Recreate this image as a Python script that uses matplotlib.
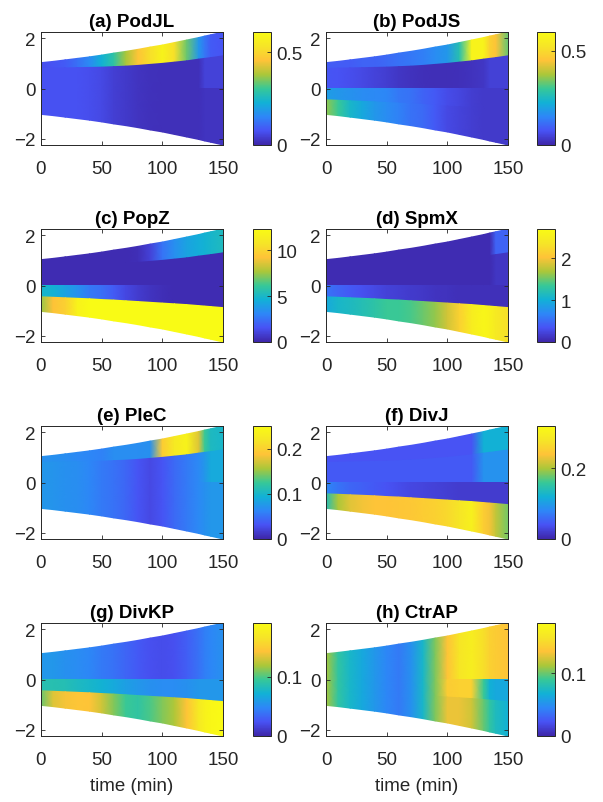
import numpy as np
import matplotlib
matplotlib.use("Agg")
import matplotlib.pyplot as plt
from matplotlib.colors import LinearSegmentedColormap
from matplotlib.ticker import FuncFormatter

plt.rcParams["font.family"] = ["Liberation Sans", "DejaVu Sans"]

# --- geometry of the growing cell ---
TIME = [0, 10, 20, 30, 40, 50, 60, 70, 80, 90, 100, 110, 120, 130, 135, 140, 150]
HALF_LENGTH = [1.03, 1.08, 1.14, 1.2, 1.26, 1.33, 1.41, 1.48, 1.56, 1.65, 1.73,
               1.83, 1.93, 2.03, 2.09, 2.14, 2.25]
BOUND_TOP = [0.8, 0.81, 0.82, 0.83, 0.84, 0.85, 0.87, 0.89, 0.92, 0.96, 1.0,
             1.05, 1.1, 1.17, 1.2, 1.23, 1.3]
BOUND_BOT = [-0.45, -0.47, -0.49, -0.51, -0.53, -0.56, -0.58, -0.61, -0.64, -0.67,
             -0.7, -0.73, -0.76, -0.8, -0.82, -0.84, -0.88]

TITLES = ["(a) PodJL", "(b) PodJS", "(c) PopZ", "(d) SpmX",
          "(e) PleC", "(f) DivJ", "(g) DivKP", "(h) CtrAP"]
CLIM_MAX = [0.61, 0.6, 12.3, 2.7, 0.25, 0.32, 0.19, 0.18]
CBAR_TICKS = [[0, 0.5], [0, 0.5], [0, 5, 10], [0, 1, 2],
              [0, 0.1, 0.2], [0, 0.2], [0, 0.1], [0, 0.1]]

# concentrations per compartment (1 = top pole ... 4 = bottom pole)
PODJL_1 = [0.07, 0.08, 0.09, 0.12, 0.16, 0.23, 0.29, 0.38, 0.46, 0.52, 0.58, 0.52, 0.34, 0.18, 0.13, 0.09, 0.08]
PODJL_2 = [0.075, 0.075, 0.075, 0.075, 0.07, 0.06, 0.045, 0.035, 0.025, 0.02, 0.018, 0.018, 0.018, 0.018, 0.05, 0.05, 0.05]
PODJL_3 = [0.075, 0.075, 0.075, 0.075, 0.07, 0.06, 0.045, 0.035, 0.025, 0.02, 0.018, 0.018, 0.018, 0.018, 0.025, 0.025, 0.025]
PODJL_4 = [0.075, 0.075, 0.075, 0.075, 0.07, 0.06, 0.045, 0.035, 0.025, 0.02, 0.018, 0.018, 0.018, 0.018, 0.025, 0.025, 0.025]

PODJS_1 = [0.09, 0.09, 0.09, 0.1, 0.1, 0.11, 0.12, 0.13, 0.14, 0.16, 0.18, 0.27, 0.57, 0.57, 0.48, 0.45, 0.33]
PODJS_2 = [0.08, 0.075, 0.07, 0.06, 0.05, 0.04, 0.03, 0.022, 0.018, 0.015, 0.015, 0.018, 0.022, 0.03, 0.045, 0.045, 0.045]
PODJS_3 = [0.19, 0.18, 0.17, 0.16, 0.155, 0.15, 0.13, 0.12, 0.1, 0.085, 0.065, 0.055, 0.04, 0.035, 0.035, 0.035, 0.035]
PODJS_4 = [0.36, 0.3, 0.24, 0.21, 0.18, 0.16, 0.145, 0.12, 0.11, 0.085, 0.06, 0.05, 0.04, 0.035, 0.035, 0.035, 0.035]

POPZ_1 = [0.2, 0.2, 0.2, 0.2, 0.2, 0.2, 0.2, 0.2, 0.3, 1.0, 2.5, 3.4, 4.1, 4.5, 4.7, 4.9, 5.2]
POPZ_2 = [0.2, 0.2, 0.2, 0.2, 0.2, 0.2, 0.2, 0.2, 0.2, 0.2, 0.2, 0.2, 0.2, 0.2, 0.2, 0.2, 0.2]
POPZ_3 = [4.9, 4.7, 4.1, 3.5, 2.7, 2.4, 1.8, 1.2, 0.8, 0.5, 0.3, 0.2, 0.2, 0.2, 0.2, 0.2, 0.2]
POPZ_4 = [7.4, 9.2, 9.8, 11.7, 12.5, 13.0, 13.0, 13.0, 13.0, 13.0, 13.0, 13.0, 13.0, 13.0, 13.0, 13.0, 13.0]

SPMX_1 = [0.05, 0.05, 0.05, 0.05, 0.05, 0.05, 0.05, 0.05, 0.05, 0.05, 0.05, 0.05, 0.05, 0.05, 0.05, 0.45, 0.45]
SPMX_2 = [0.05, 0.05, 0.05, 0.05, 0.05, 0.05, 0.05, 0.05, 0.05, 0.05, 0.05, 0.05, 0.05, 0.05, 0.05, 0.12, 0.12]
SPMX_3 = [0.55, 0.46, 0.38, 0.32, 0.27, 0.22, 0.19, 0.16, 0.14, 0.11, 0.1, 0.08, 0.08, 0.08, 0.08, 0.08, 0.08]
SPMX_4 = [0.95, 1.08, 1.13, 1.2, 1.27, 1.35, 1.35, 1.4, 1.5, 1.62, 1.84, 2.16, 2.48, 2.62, 2.56, 2.43, 2.3]

PLEC_1 = [0.07, 0.07, 0.068, 0.065, 0.063, 0.06, 0.068, 0.068, 0.068, 0.07, 0.195, 0.225, 0.238, 0.175, 0.125, 0.105, 0.1]
PLEC_2 = [0.075, 0.073, 0.07, 0.068, 0.063, 0.055, 0.05, 0.043, 0.033, 0.025, 0.033, 0.045, 0.055, 0.065, 0.075, 0.088, 0.088]
PLEC_3 = [0.075, 0.073, 0.07, 0.068, 0.063, 0.055, 0.05, 0.043, 0.033, 0.025, 0.033, 0.045, 0.055, 0.065, 0.07, 0.075, 0.075]
PLEC_4 = [0.075, 0.073, 0.07, 0.068, 0.063, 0.055, 0.05, 0.043, 0.033, 0.025, 0.033, 0.045, 0.055, 0.065, 0.07, 0.075, 0.075]

DIVJ_1 = [0.04, 0.04, 0.04, 0.04, 0.04, 0.04, 0.04, 0.04, 0.04, 0.04, 0.04, 0.04, 0.04, 0.12, 0.12, 0.12, 0.12]
DIVJ_2 = [0.045, 0.045, 0.045, 0.045, 0.045, 0.045, 0.045, 0.045, 0.045, 0.045, 0.045, 0.045, 0.045, 0.09, 0.09, 0.09, 0.09]
DIVJ_3 = [0.08, 0.065, 0.055, 0.05, 0.045, 0.04, 0.035, 0.03, 0.028, 0.025, 0.023, 0.02, 0.02, 0.02, 0.02, 0.02, 0.02]
DIVJ_4 = [0.14, 0.2, 0.225, 0.235, 0.24, 0.24, 0.243, 0.246, 0.25, 0.256, 0.265, 0.28, 0.3, 0.25, 0.235, 0.21, 0.18]

DIVKP_1 = [0.057, 0.057, 0.053, 0.051, 0.048, 0.042, 0.038, 0.032, 0.027, 0.023, 0.021, 0.023, 0.029, 0.038, 0.044, 0.048, 0.053]
DIVKP_2 = [0.057, 0.057, 0.053, 0.051, 0.048, 0.042, 0.038, 0.032, 0.027, 0.023, 0.021, 0.023, 0.029, 0.038, 0.044, 0.048, 0.053]
DIVKP_3 = [0.086, 0.086, 0.084, 0.08, 0.076, 0.072, 0.067, 0.061, 0.057, 0.053, 0.051, 0.051, 0.053, 0.057, 0.057, 0.057, 0.057]
DIVKP_4 = [0.105, 0.133, 0.14, 0.144, 0.143, 0.129, 0.11, 0.095, 0.091, 0.099, 0.11, 0.12, 0.143, 0.171, 0.18, 0.186, 0.19]

CTRAP_1 = [0.112, 0.086, 0.072, 0.063, 0.054, 0.045, 0.04, 0.05, 0.072, 0.104, 0.135, 0.158, 0.166, 0.153, 0.144, 0.14, 0.135]
CTRAP_2 = [0.112, 0.086, 0.072, 0.063, 0.054, 0.045, 0.04, 0.05, 0.072, 0.104, 0.135, 0.158, 0.166, 0.153, 0.144, 0.14, 0.135]
CTRAP_3 = [0.112, 0.086, 0.072, 0.063, 0.054, 0.045, 0.04, 0.05, 0.072, 0.104, 0.14, 0.144, 0.144, 0.09, 0.068, 0.063, 0.063]
CTRAP_4 = [0.112, 0.086, 0.072, 0.063, 0.054, 0.045, 0.04, 0.05, 0.072, 0.104, 0.13, 0.13, 0.122, 0.099, 0.086, 0.076, 0.068]

PANEL_DATA = [
    [PODJL_1, PODJL_2, PODJL_3, PODJL_4],
    [PODJS_1, PODJS_2, PODJS_3, PODJS_4],
    [POPZ_1, POPZ_2, POPZ_3, POPZ_4],
    [SPMX_1, SPMX_2, SPMX_3, SPMX_4],
    [PLEC_1, PLEC_2, PLEC_3, PLEC_4],
    [DIVJ_1, DIVJ_2, DIVJ_3, DIVJ_4],
    [DIVKP_1, DIVKP_2, DIVKP_3, DIVKP_4],
    [CTRAP_1, CTRAP_2, CTRAP_3, CTRAP_4],
]

# parula-like colormap (MATLAB default)
parula = LinearSegmentedColormap.from_list("parula", [
    (0.000, (0.2422, 0.1504, 0.6603)),
    (0.125, (0.2810, 0.3228, 0.9579)),
    (0.250, (0.1786, 0.5289, 0.9682)),
    (0.375, (0.0689, 0.6948, 0.8394)),
    (0.500, (0.2161, 0.7843, 0.5923)),
    (0.625, (0.6720, 0.7793, 0.2227)),
    (0.750, (0.9970, 0.7659, 0.2199)),
    (0.875, (0.9628, 0.8985, 0.1527)),
    (1.000, (0.9769, 0.9839, 0.0805)),
])

GRAY = (0.15, 0.15, 0.15)
W, H = 603, 803
fig = plt.figure(figsize=(W / 100, H / 100), dpi=100)

t = np.array(TIME, dtype=float)
top = np.array(HALF_LENGTH)
bot = -np.array(HALF_LENGTH)
mid = np.zeros_like(t)
b1 = np.array(BOUND_TOP)
b3 = np.array(BOUND_BOT)
# upper / lower edge of each compartment
edges = [(top, b1), (b1, mid), (mid, b3), (b3, bot)]

row_tops = [33, 230, 427, 624]
ax_h = 113

for i, (title, comps) in enumerate(zip(TITLES, PANEL_DATA)):
    row, col = divmod(i, 2)
    x0 = 41 if col == 0 else 326
    cx0 = 253 if col == 0 else 537
    y0 = 1 - (row_tops[row] + ax_h) / H
    ax = fig.add_axes([x0 / W, y0, 182 / W, ax_h / H])
    cax = fig.add_axes([cx0 / W, y0, 18 / W, ax_h / H])

    vmax = CLIM_MAX[i]
    for (up, lo), vals in zip(edges, comps):
        X = np.vstack([t, t])
        Y = np.vstack([up, lo])
        C = np.vstack([vals, vals])
        m = ax.pcolormesh(X, Y, C, shading="gouraud", cmap=parula,
                          vmin=0, vmax=vmax)

    ax.set_xlim(0, 150)
    ax.set_ylim(-2.25, 2.25)
    ax.set_xticks([0, 50, 100, 150])
    ax.set_yticks([-2, 0, 2])
    ax.tick_params(direction="in", length=3, width=0.6, colors=GRAY,
                   labelsize=13.5, top=True, right=True, labeltop=False, labelright=False)
    ax.tick_params(axis="x", pad=11)
    ax.tick_params(axis="y", pad=4)
    for s in ax.spines.values():
        s.set_color(GRAY)
        s.set_linewidth(0.7)
    ax.set_title(title, fontsize=13.5, fontweight="bold", pad=4)
    if row == 3:
        ax.set_xlabel("time (min)", fontsize=13.5, color=GRAY, labelpad=6)

    cb = fig.colorbar(m, cax=cax, ticks=CBAR_TICKS[i])
    cb.ax.yaxis.set_major_formatter(FuncFormatter(lambda v, p: "%g" % v))
    cb.ax.tick_params(direction="in", length=3, width=0.6, colors=GRAY, labelsize=13.5, pad=4)
    cb.outline.set_edgecolor(GRAY)
    cb.outline.set_linewidth(0.7)

fig.savefig("out.png", dpi=100)
